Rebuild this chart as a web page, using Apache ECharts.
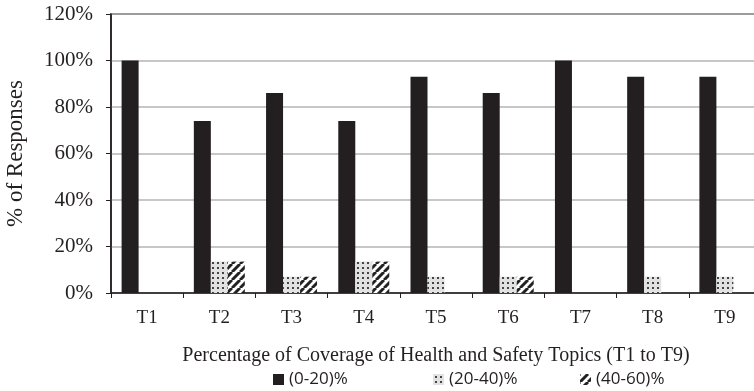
<!DOCTYPE html>
<html>
<head>
<meta charset="utf-8">
<script src="https://cdn.jsdelivr.net/npm/echarts@6/dist/echarts.min.js"></script>
<style>
  html, body { margin: 0; padding: 0; background: #fff; }
  #chart { width: 754px; height: 391px; }
</style>
</head>
<body>
<div id="chart"></div>
<script>
const topics = ['T1', 'T2', 'T3', 'T4', 'T5', 'T6', 'T7', 'T8', 'T9'];
const cover0to20 = [100, 74, 86, 74, 93, 86, 100, 93, 93];
const cover20to40 = [0, 13.5, 7, 13.5, 7, 7, 0, 7, 7];
const cover40to60 = [0, 13.5, 7, 13.5, 0, 7, 0, 0, 0];
const yTicks = [0, 20, 40, 60, 80, 100, 120];
const seriesNames = ['(0-20)%', '(20-40)%', '(40-60)%'];

// small fill textures for the two patterned series
function dotPattern() {
  const c = document.createElement('canvas');
  c.width = 5; c.height = 5;
  const ctx = c.getContext('2d');
  ctx.fillStyle = '#e2e2e2';
  ctx.fillRect(0, 0, 5, 5);
  ctx.fillStyle = '#444';
  ctx.fillRect(2, 2, 2, 2);
  return c;
}

function hatchPattern() {
  const s = 8;
  const c = document.createElement('canvas');
  c.width = s; c.height = s;
  const ctx = c.getContext('2d');
  ctx.fillStyle = '#fff';
  ctx.fillRect(0, 0, s, s);
  ctx.strokeStyle = '#222';
  ctx.lineWidth = 3;
  ctx.beginPath();
  for (let k = -1; k <= 1; k++) {
    ctx.moveTo(k * s, s);
    ctx.lineTo(k * s + s, 0);
  }
  ctx.stroke();
  return c;
}

const serif = '"Liberation Serif", "DejaVu Serif", serif';
const chart = echarts.init(document.getElementById('chart'));

// one legend per item so the spacing can follow the original
const legendLeft = [268, 428, 575];
const legends = seriesNames.map((name, i) => ({
  left: legendLeft[i],
  bottom: -2,
  icon: 'rect',
  itemWidth: 11,
  itemHeight: 11,
  itemGap: 0,
  textStyle: { fontFamily: '"Open Sans", sans-serif', fontSize: 17, color: '#231f20' },
  data: [name],
}));

const option = {
  animation: false,
  backgroundColor: '#fff',
  grid: {
    left: 111,
    right: -7,
    top: 14,
    bottom: 98,
    outerBoundsMode: 'none',
    containLabel: false,
    show: true,
    borderColor: '#231f20',
    borderWidth: 1.5,
  },
  legend: legends,
  xAxis: {
    type: 'category',
    data: topics,
    name: 'Percentage of Coverage of Health and Safety Topics (T1 to T9)',
    nameLocation: 'middle',
    nameGap: 53,
    nameTextStyle: { fontFamily: serif, fontSize: 20, color: '#231f20' },
    axisLine: { lineStyle: { color: '#231f20', width: 1.5 } },
    axisTick: { show: true, length: 5, alignWithLabel: false, lineStyle: { color: '#231f20' } },
    axisLabel: { fontFamily: serif, fontSize: 19, color: '#231f20', margin: 16 },
  },
  yAxis: {
    type: 'value',
    min: yTicks[0],
    max: yTicks[yTicks.length - 1],
    interval: 20,
    name: '% of Responses',
    nameLocation: 'middle',
    nameGap: 84,
    nameTextStyle: { fontFamily: serif, fontSize: 23, color: '#231f20' },
    axisLine: { show: true, lineStyle: { color: '#231f20', width: 1.5 } },
    axisTick: { show: true, length: 5, lineStyle: { color: '#231f20' } },
    axisLabel: { fontFamily: serif, fontSize: 21, color: '#231f20', margin: 18, formatter: '{value}%' },
    splitLine: { lineStyle: { color: '#b5b5b5', width: 1.5 } },
  },
  series: [
    {
      name: seriesNames[0],
      type: 'bar',
      data: cover0to20,
      barWidth: 17,
      barGap: '0%',
      itemStyle: { color: '#231f20' },
    },
    {
      name: seriesNames[1],
      type: 'bar',
      data: cover20to40,
      barWidth: 17,
      barGap: '0%',
      itemStyle: { color: { image: dotPattern(), repeat: 'repeat' } },
    },
    {
      name: seriesNames[2],
      type: 'bar',
      data: cover40to60,
      barWidth: 17,
      barGap: '0%',
      itemStyle: { color: { image: hatchPattern(), repeat: 'repeat' } },
    },
  ],
};

chart.setOption(option);
</script>
</body>
</html>
